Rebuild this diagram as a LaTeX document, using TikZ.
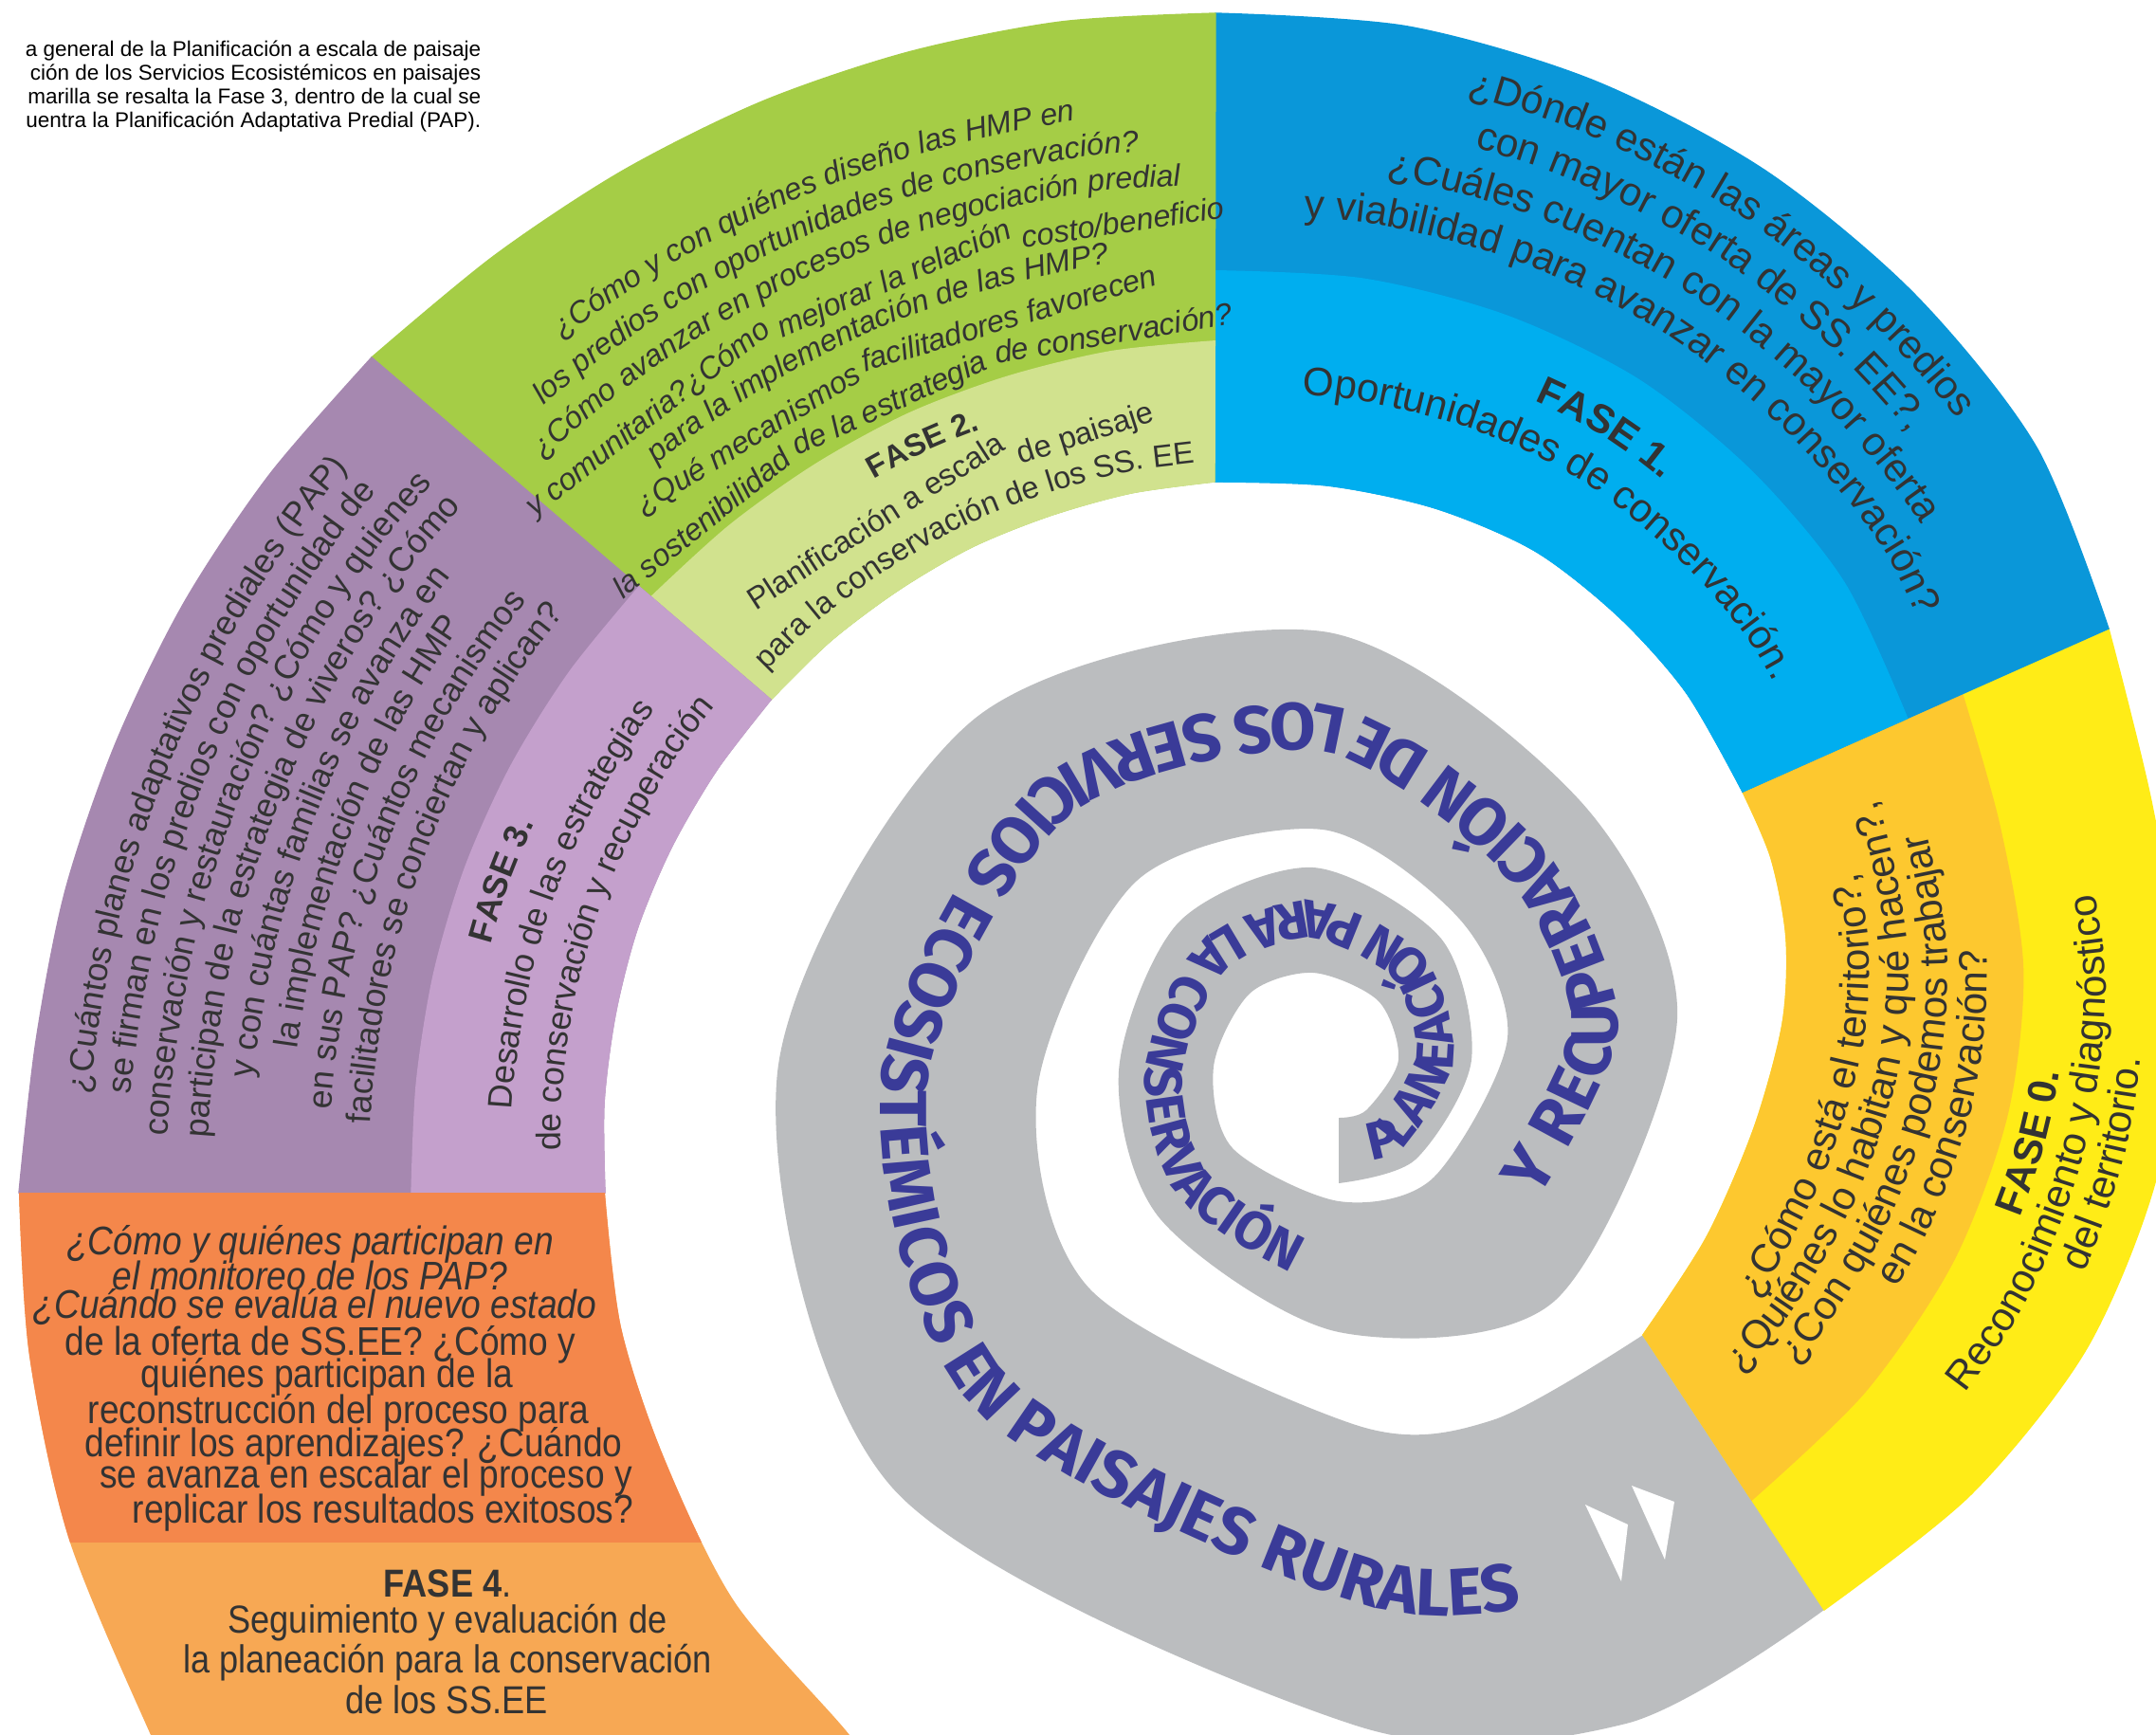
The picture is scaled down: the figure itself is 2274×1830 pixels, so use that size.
\documentclass[tikz,border=0pt]{standalone}
\usepackage{fontspec}
\setmainfont{Liberation Sans}
\newfontfamily\condfont[FakeStretch=0.88]{Liberation Sans}
\newfontfamily\spiralfont{Fira Sans}
\usetikzlibrary{calc,decorations.text}

\definecolor{spiralgray}{HTML}{BBBDBF}
\definecolor{spiralblue}{HTML}{3A3B98}
\definecolor{txtgray}{HTML}{333333}
\definecolor{gold0}{HTML}{FDC82F}
\definecolor{yellow0}{HTML}{FFEC17}
\definecolor{blue1}{HTML}{0A97D9}
\definecolor{lblue1}{HTML}{00AEEF}
\definecolor{green2}{HTML}{A5CD46}
\definecolor{lgreen2}{HTML}{D1E28E}
\definecolor{purple3}{HTML}{A688B0}
\definecolor{lpurple3}{HTML}{C4A0CC}
\definecolor{orange4}{HTML}{F4874B}
\definecolor{lorange4}{HTML}{F7A854}

% fonts of the band texts
\newcommand\qzero{\fontsize{12}{14}\selectfont}
\newcommand\qone{\fontsize{12}{14}\selectfont}
\newcommand\qtwo{\fontsize{9.2}{11}\selectfont\itshape}
\newcommand\ttwo{\fontsize{9.3}{11}\selectfont}
\newcommand\qthree{\fontsize{10.2}{12}\selectfont}

% part of a band between the fractions #2 and #3 (inner edge 0, outer edge 1)
\newcommand\bandfill[4]{%
  \foreach \j in {1,...,7} {
    \coordinate (ba\j) at ($(#1i\j)!#2!(#1o\j)$);
    \coordinate (bb\j) at ($(#1i\j)!#3!(#1o\j)$);
  }
  \fill[#4, draw=#4, line width=0.4pt] plot[smooth] coordinates {(ba1) (ba2) (ba3) (ba4) (ba5) (ba6) (ba7)}
    -- plot[smooth] coordinates {(bb7) (bb6) (bb5) (bb4) (bb3) (bb2) (bb1)} -- cycle;
}
% one line of text running along a band at the fraction #2
\newcommand\bandtext[3]{%
  \foreach \j in {1,...,7} {\coordinate (bt\j) at ($(#1i\j)!#2!(#1o\j)$);}
  \coordinate (bt0) at ($(bt1)!-2.5cm!(bt2)$);
  \coordinate (bt8) at ($(bt7)!-2.5cm!(bt6)$);
  \path[decorate, decoration={text along path, text align=center, text color=txtgray, text={#3}}]
    plot[smooth] coordinates {(bt0) (bt1) (bt2) (bt3) (bt4) (bt5) (bt6) (bt7) (bt8)};
}
% a short piece of a line, set straight on the chord between the spokes #3 and #4
\newcommand\bandchunk[6]{%
  \coordinate (bc1) at ($(#1i#3)!#2!(#1o#3)$);
  \coordinate (bc2) at ($(#1i#4)!#2!(#1o#4)$);
  \path (bc1) -- (bc2) node[pos=#5, sloped, anchor=base, inner sep=0pt, text=txtgray] {#6};
}

\begin{document}
\begin{tikzpicture}[x=0.01cm, y=-0.01cm]
    \tikzstyle{figcaption}=[anchor=north east, align=right, inner sep=0pt, font=\fontsize{6.4}{7.1}\selectfont]
    \tikzstyle{fase4 q}=[inner sep=0pt, text=txtgray, font=\condfont\fontsize{12}{10}\selectfont]
    \tikzstyle{fase4 t}=[inner sep=0pt, text=txtgray, font=\condfont\fontsize{11.7}{11}\selectfont]
    \useasboundingbox (0,0) rectangle (2274,1830);
    \fill[white] (0,0) rectangle (2274,1830);
    \clip (0,0) rectangle (2274,1830);

    % grey spiral: inner and outer edge, one spoke every 45 degrees
    \foreach \k/\ax/\ay/\bx/\by in {0/1412/1179/1412/1248, 1/1441/1171/1493/1223,
        2/1475/1118/1552/1118, 3/1454/1056/1520/990, 4/1385/1026/1385/915,
        5/1318/1048/1243/973, 6/1280/1125/1180/1130, 7/1300/1211/1224/1286,
        8/1412/1267/1412/1405, 9/1512/1242/1641/1371, 10/1590/1095/1769/1075,
        11/1540/970/1666/844, 12/1395/875/1395/666, 13/1199/929/1028/758,
        14/1094/1150/820/1131, 15/1150/1360/941/1569, 16/1430/1503/1430/1820,
        17/1574/1498/1715/1818, 18/1733/1408/1924/1698}
        {\coordinate (gi\k) at (\ax,\ay); \coordinate (go\k) at (\bx,\by);}
    \fill[spiralgray] plot[smooth] coordinates {(go0) (go1) (go2) (go3) (go4) (go5) (go6) (go7) (go8)
        (go9) (go10) (go11) (go12) (go13) (go14) (go15) (go16) (go17) (go18)}
      -- plot[smooth] coordinates {(gi18) (gi17) (gi16) (gi15) (gi14) (gi13) (gi12) (gi11) (gi10)
        (gi9) (gi8) (gi7) (gi6) (gi5) (gi4) (gi3) (gi2) (gi1) (gi0)} -- cycle;

    % coloured bands, spokes from inner to outer edge
    \foreach \k/\ax/\ay/\bx/\by in {1/1733/1408/1924/1698, 2/1800/1305/2079/1576,
        3/1850/1190/2201/1422, 4/1880/1080/2275/1240, 5/1884/990/2300/1045,
        6/1868/905/2270/850, 7/1838/835/2224/663}
        {\coordinate (ai\k) at (\ax,\ay); \coordinate (ao\k) at (\bx,\by);}
    \foreach \k/\ax/\ay/\bx/\by in {1/1281/508/1282/14, 2/1400/512/1485/28,
        3/1514/536/1681/85, 4/1619/581/1862/180, 5/1707/650/2020/311,
        6/1779/731/2148/472, 7/1838/835/2224/663}
        {\coordinate (bi\k) at (\ax,\ay); \coordinate (bo\k) at (\bx,\by);}
    \foreach \k/\ax/\ay/\bx/\by in {1/813/738/392/377, 2/876/676/521/270,
        3/948/622/657/180, 4/1025/577/804/107, 5/1107/544/958/55,
        6/1193/520/1119/23, 7/1281/508/1282/14}
        {\coordinate (ci\k) at (\ax,\ay); \coordinate (co\k) at (\bx,\by);}
    \foreach \k/\ax/\ay/\bx/\by in {1/638/1258/20/1258, 2/637/1164/38/1098,
        3/649/1070/69/939, 4/672/980/122/784, 5/708/894/194/636,
        6/756/812/284/501, 7/813/738/392/377}
        {\coordinate (di\k) at (\ax,\ay); \coordinate (do\k) at (\bx,\by);}

    \bandfill{a}{0}{1}{yellow0}
    \bandfill{a}{0}{0.6}{gold0}
    \bandfill{b}{0}{1}{blue1}
    \bandfill{b}{0}{0.45}{lblue1}
    \bandfill{c}{0}{1}{green2}
    \bandfill{c}{0}{0.3}{lgreen2}
    \bandfill{d}{0}{1}{purple3}
    \bandfill{d}{0}{0.33}{lpurple3}
    \fill[lorange4] plot[smooth] coordinates {(20,1258) (31,1430) (73,1624) (159,1830) (195,1900)}
      -- plot[smooth] coordinates {(940,1900) (896,1830) (775,1690) (700,1537) (655,1400) (638,1258)} -- cycle;
    \begin{scope}
      \clip (0,0) rectangle (2274,1626);
      \fill[orange4] plot[smooth] coordinates {(20,1258) (31,1430) (73,1624) (159,1830)}
        -- plot[smooth] coordinates {(896,1830) (775,1690) (700,1537) (655,1400) (638,1258)} -- cycle;
    \end{scope}

    % arrow heads at the end of the grey band
    \fill[white] (1672,1587) -- (1717,1608) -- (1710,1668) -- cycle;
    \fill[white] (1721,1567) -- (1766,1584) -- (1756,1645) -- cycle;

    % title along the grey spiral
    \foreach \k/\tf in {0/0.78, 1/0.76, 2/0.75, 3/0.72, 4/0.68, 5/0.70, 6/0.715, 7/0.71, 8/0.67,
        9/0.64, 10/0.65, 11/0.65, 12/0.63, 13/0.61, 14/0.60, 15/0.59, 16/0.59, 17/0.58, 18/0.58}
        \coordinate (sb\k) at ($(gi\k)!\tf!(go\k)$);
    \coordinate (sbs) at ($(sb0)!0.5!(sb1)$);
    \path[decorate, decoration={text along path, text color=spiralblue,
        text={|\spiralfont\bfseries\fontsize{16}{16}\selectfont|PLANEACIÓN PARA LA CONSERVACIÓN}}]
      plot[smooth] coordinates {(sbs) (sb1) (sb2) (sb3) (sb4) (sb5) (sb6) (sb7) (sb8) (sb9) (sb10)};
    \path[decorate, decoration={text along path, text color=spiralblue,
        text={|\spiralfont\bfseries\fontsize{20}{20}\selectfont|Y RECUPERACIÓN DE LOS SERVICIOS ECOSISTÉMICOS EN PAISAJES RURALES}}]
      plot[smooth] coordinates {($(sb9)!0.25!(sb10)$) (sb10) (sb11) (sb12) (sb13) (sb14) (sb15) (sb16) (sb17) (sb18)};

    % Fase 0
    \bandtext{a}{0.21}{|\qzero|¿Cómo está el territorio?,}
    \bandtext{a}{0.31}{|\qzero|¿Quiénes lo habitan y qué hacen?,}
    \bandtext{a}{0.41}{|\qzero|¿Con quiénes podemos trabajar}
    \bandtext{a}{0.51}{|\qzero|en la  conservación?}
    \bandtext{a}{0.71}{|\qzero\bfseries|FASE 0.}
    \bandtext{a}{0.81}{|\qzero|Reconocimiento y diagnóstico}
    \bandtext{a}{0.91}{|\qzero|del territorio.}
    % Fase 1
    \bandtext{b}{0.885}{|\qone|¿Dónde están las áreas y predios}
    \bandtext{b}{0.78}{|\qone|con mayor oferta de SS. EE?,}
    \bandtext{b}{0.675}{|\qone|¿Cuáles cuentan con la mayor oferta}
    \bandtext{b}{0.57}{|\qone|y viabilidad para avanzar en conservación?}
    \bandtext{b}{0.3}{|\qone\bfseries|FASE 1.}
    \bandtext{b}{0.19}{|\qone|Oportunidades de conservación.}
    % Fase 2
    \bandtext{c}{0.79}{|\qtwo|¿Cómo y con quiénes diseño las HMP en}
    \bandtext{c}{0.713}{|\qtwo|los predios con oportunidades de conservación?}
    \bandtext{c}{0.637}{|\qtwo|¿Cómo avanzar en procesos de negociación predial}
    \bandchunk{c}{0.56}{1}{3}{0.54}{\qtwo y comunitaria?¿Cómo}
    \bandchunk{c}{0.56}{3}{5}{0.68}{\qtwo mejorar la relación}
    \bandchunk{c}{0.56}{5}{7}{0.63}{\qtwo costo/beneficio}
    \bandtext{c}{0.483}{|\qtwo|para la implementación de las HMP?}
    \bandchunk{c}{0.407}{2}{4}{0.31}{\qtwo ¿Qué mecanismos}
    \bandchunk{c}{0.407}{4}{6}{0.58}{\qtwo facilitadores favorecen}
    \bandchunk{c}{0.33}{1}{3}{0.41}{\qtwo la sostenibilidad}
    \bandchunk{c}{0.33}{3}{5}{0.44}{\qtwo de la estrategia}
    \bandchunk{c}{0.33}{5}{7}{0.53}{\qtwo de conservación?}
    \bandtext{c}{0.215}{|\ttwo\bfseries|FASE 2.}
    \bandchunk{c}{0.13}{2}{4}{0.6}{\ttwo Planificación a escala}
    \bandchunk{c}{0.13}{4}{6}{0.81}{\ttwo de paisaje}
    \bandtext{c}{0.045}{|\ttwo|para la conservación de los SS. EE}
    % Fase 3
    \bandtext{d}{0.895}{|\qthree|¿Cuántos planes adaptativos prediales (PAP)}
    \bandtext{d}{0.825}{|\qthree|se firman en los predios con oportunidad de}
    \bandtext{d}{0.755}{|\qthree|conservación y restauración? ¿Cómo y quienes}
    \bandtext{d}{0.685}{|\qthree|participan de la estrategia de viveros? ¿Cómo}
    \bandtext{d}{0.615}{|\qthree|y con cuántas familias se avanza en}
    \bandtext{d}{0.545}{|\qthree|la implementación de las HMP}
    \bandtext{d}{0.475}{|\qthree|en sus PAP? ¿Cuántos mecanismos}
    \bandtext{d}{0.405}{|\qthree|facilitadores se conciertan y aplican?}
    \bandtext{d}{0.245}{|\qthree\bfseries|FASE 3.}
    \bandtext{d}{0.16}{|\qthree|Desarrollo de las estrategias}
    \bandtext{d}{0.075}{|\qthree|de conservación y recuperación}
    % Fase 4
    \foreach \px/\py/\txt [count=\n] in {327/1312/{\itshape ¿Cómo y quiénes participan en},
        327/1345/{\itshape el monitoreo de los PAP?},
        332/1379/{\itshape ¿Cuándo se evalúa el nuevo estado},
        338/1418/{de la oferta de SS.EE? ¿Cómo y},
        345/1452/{quiénes participan de la},
        357/1490/{reconstrucción del proceso para},
        373/1525/{definir los aprendizajes? ¿Cuándo},
        386/1559/{se avanza en escalar el proceso y},
        404/1596/{replicar los resultados exitosos?}}
        \node[fase4 q] (q4-\n) at (\px,\py) {\txt};
    \foreach \px/\py/\txt [count=\n] in {472/1670/{{\bfseries FASE 4}.},
        472/1712/{Seguimiento y evaluación de},
        472/1754/{la planeación para la conservación},
        471/1793/{de los SS.EE}}
        \node[fase4 t] (t4-\n) at (\px,\py) {\txt};

    % caption, cut at the left border
    \node[figcaption] (caption) at (508,42) {a general de la Planificación a escala de paisaje\\
        ción de los Servicios Ecosistémicos en paisajes\\
        marilla se resalta la Fase 3, dentro de la cual se\\
        uentra la Planificación Adaptativa Predial (PAP).};
\end{tikzpicture}
\end{document}
